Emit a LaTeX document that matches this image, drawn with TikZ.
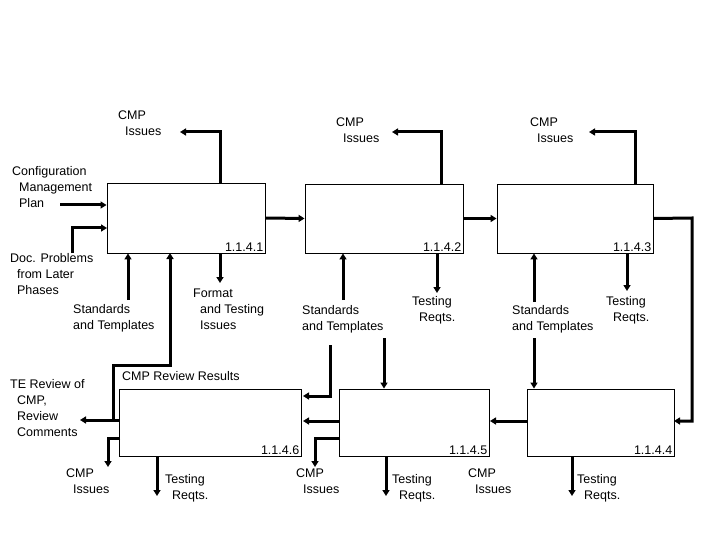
\documentclass[tikz,border=0pt]{standalone}
\usepackage{fontspec}
\setmainfont{Liberation Sans}
\usetikzlibrary{arrows.meta}
\begin{document}
\begin{tikzpicture}[x=1pt,y=-1pt,
  box/.style={draw,line width=0.9pt,inner sep=0pt},
  ar/.style={line width=3pt,-{Triangle[length=6pt,width=7pt]}},
  lbl/.style={font=\fontsize{12.5}{16}\selectfont,align=left,inner sep=0pt,anchor=north west},
  num/.style={font=\fontsize{12.5}{14}\selectfont,inner sep=2pt,anchor=south east}]
\useasboundingbox (0,0) rectangle (720,540);
% boxes
\node[box,minimum width=158pt,minimum height=70pt] (b1) at (186,218) {};
\node[box,minimum width=158pt,minimum height=69pt] (b2) at (384,218.5) {};
\node[box,minimum width=156pt,minimum height=69pt] (b3) at (575,218.5) {};
\node[box,minimum width=182pt,minimum height=67pt] (b6) at (210,422.5) {};
\node[box,minimum width=150pt,minimum height=67pt] (b5) at (414,422.5) {};
\node[box,minimum width=147pt,minimum height=67pt] (b4) at (600.5,422.5) {};
\node[num] (n1) at (b1.south east) {1.1.4.1};
\node[num] (n2) at (b2.south east) {1.1.4.2};
\node[num] (n3) at (b3.south east) {1.1.4.3};
\node[num] (n6) at (b6.south east) {1.1.4.6};
\node[num] (n5) at (b5.south east) {1.1.4.5};
\node[num] (n4) at (b4.south east) {1.1.4.4};
% labels
\node[lbl] (t1) at (118,111) {CMP\\\ \ Issues};
\node[lbl] (t2) at (336,118) {CMP\\\ \ Issues};
\node[lbl] (t3) at (530,118) {CMP\\\ \ Issues};
\node[lbl] (tc) at (12,166) {Configuration\\\ \ Management\\\ \ Plan};
\node[lbl] (td) at (10,253) {Doc. Problems\\\ \ from Later\\\ \ Phases};
\node[lbl] (ts1) at (73,304) {Standards\\and Templates};
\node[lbl] (tf) at (193,289) {Format\\\ \ and Testing\\\ \ Issues};
\node[lbl] (ts2) at (302,305) {Standards\\and Templates};
\node[lbl] (tt2) at (412,296) {Testing\\\ \ Reqts.};
\node[lbl] (ts3) at (512,305) {Standards\\and Templates};
\node[lbl] (tt3) at (606,296) {Testing\\\ \ Reqts.};
\node[lbl] (tr) at (122,371) {CMP Review Results};
\node[lbl] (te) at (10,379) {TE Review of\\\ \ CMP,\\\ \ Review\\\ \ Comments};
\node[lbl] (c6) at (66,469) {CMP\\\ \ Issues};
\node[lbl] (r6) at (165,474) {Testing\\\ \ Reqts.};
\node[lbl] (c5) at (296,469) {CMP\\\ \ Issues};
\node[lbl] (r5) at (392,474) {Testing\\\ \ Reqts.};
\node[lbl] (c4) at (468,469) {CMP\\\ \ Issues};
\node[lbl] (r4) at (577,474) {Testing\\\ \ Reqts.};
% coordinates
\coordinate (cfg) at (60,205);
\coordinate (doc) at (72,253);
\coordinate (s1) at (128,300);
\coordinate (s2) at (343,300);
\coordinate (s3) at (534,302);
\coordinate (s2d) at (384,338);
\coordinate (s3d) at (534,338);
\coordinate (rv) at (330,345);
\coordinate (teo) at (80,420);
\coordinate (br) at (113,420);
% top outputs
\draw[ar] (220,183) -- (220,132) -- (180,132);
\draw[ar] (441,184) -- (441,132) -- (392,132);
\draw[ar] (635,184) -- (635,132) -- (589,132);
% inputs to b1
\draw[ar] (cfg) -- (cfg -| b1.west);
\draw[ar] (doc) -- (72,228) -- (107,228);
\draw[ar] (s1) -- (s1 |- b1.south);
\draw[ar] (220,253) -- (220,283);
% chain
\draw[ar] (b1.east) -- (b2.west);
\draw[ar] (b2.east) -- (b3.west);
\draw[ar] (b3.east) -- (692,218) -- (692,421) -- (674,421);
% b2/b3 bottoms
\draw[ar] (s2) -- (s2 |- b2.south);
\draw[ar] (437,253) -- (437,293);
\draw[ar] (s3) -- (s3 |- b3.south);
\draw[ar] (627,253) -- (627,291);
\draw[ar] (s2d) -- (s2d |- b5.north);
\draw[ar] (s3d) -- (s3d |- b4.north);
\draw[ar] (rv) -- (330,396) -- (303,396);
% bottom chain
\draw[ar] (527,421) -- (490,421);
\draw[ar] (339,421) -- (303,421);
\draw[ar] (119,420) -- (teo);
\draw[ar] (br) -- (113,365) -- (170,365) -- (170,253);
\draw[ar] (120,438) -- (108,438) -- (108,467);
\draw[ar] (340,438) -- (315,438) -- (315,467);
\draw[ar] (157,456) -- (157,496);
\draw[ar] (386,456) -- (386,496);
\draw[ar] (572,456) -- (572,496);
\end{tikzpicture}
\end{document}
